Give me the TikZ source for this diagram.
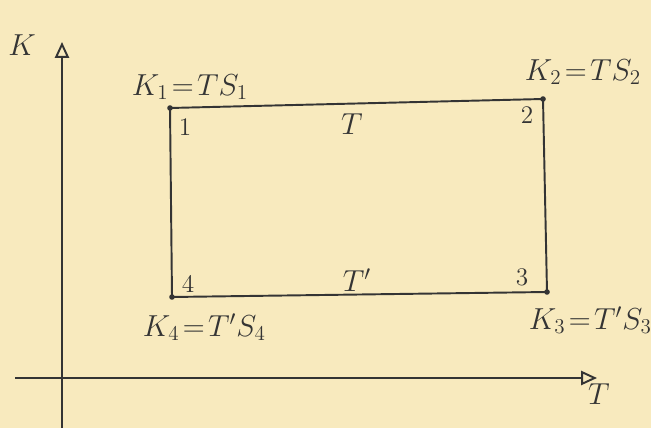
\documentclass[tikz,border=0pt]{standalone}
\usepackage{amsmath, amssymb}
\usepackage{xcolor}
\usepackage{tikz}
\usetikzlibrary{arrows.meta, positioning}

\definecolor{giay}{RGB}{248,234,190}
\definecolor{muc}{RGB}{52,52,52}

\begin{document}
\begin{tikzpicture}[x=0.02cm, y=-0.02cm, >={Triangle[open, length=9pt, width=8pt]},
    line width=1.1pt, draw=muc, text=muc,
    nhan/.style={font=\LARGE, inner sep=0pt},
    so/.style={font=\Large}]
    % Nền giấy
    \fill[giay] (0,0) rectangle (651,428);
    \useasboundingbox (0,0) rectangle (651,428);

    % Hệ trục tọa độ
    \coordinate (Kgoc) at (62,428);
    \coordinate (Kdinh) at (62,42);
    \coordinate (Tgoc) at (15,378);
    \coordinate (Tdinh) at (597,378);
    \draw[->] (Kgoc) -- (Kdinh);
    \draw[->] (Tgoc) -- (Tdinh);
    \node[nhan] (Ktruc) at (22,45) {$K$};
    \node[nhan] (Ttruc) at (599,394) {$T$};

    % Chu trình 1-2-3-4
    \coordinate (P1) at (170,108);
    \coordinate (P2) at (543,99);
    \coordinate (P3) at (547,292);
    \coordinate (P4) at (172,297);
    \draw (P1) -- (P2) -- (P3) -- (P4) -- cycle;
    \foreach \p in {P1, P2, P3, P4}
        \fill[muc] (\p) circle (2.8);

    % Số hiệu các đỉnh
    \node[so] (s1) at (185,127) {$1$};
    \node[so] (s2) at (527,115) {$2$};
    \node[so] (s3) at (522,277) {$3$};
    \node[so] (s4) at (188,284) {$4$};

    % Nhiệt độ trên các cạnh
    \node[nhan] (Tcao) at (352,124) {$T$};
    \node[nhan] (Tthap) at (357,280) {$T'$};

    % Nhãn K tại các đỉnh
    \node[nhan, anchor=west] (K1) at (131,87) {$K_1\!=\!TS_1$};
    \node[nhan, anchor=west] (K2) at (524,72) {$K_2\!=\!TS_2$};
    \node[nhan, anchor=west] (K3) at (528,320) {$K_3\!=\!T'S_3$};
    \node[nhan, anchor=west] (K4) at (142,327) {$K_4\!=\!T'S_4$};
\end{tikzpicture}
\end{document}
